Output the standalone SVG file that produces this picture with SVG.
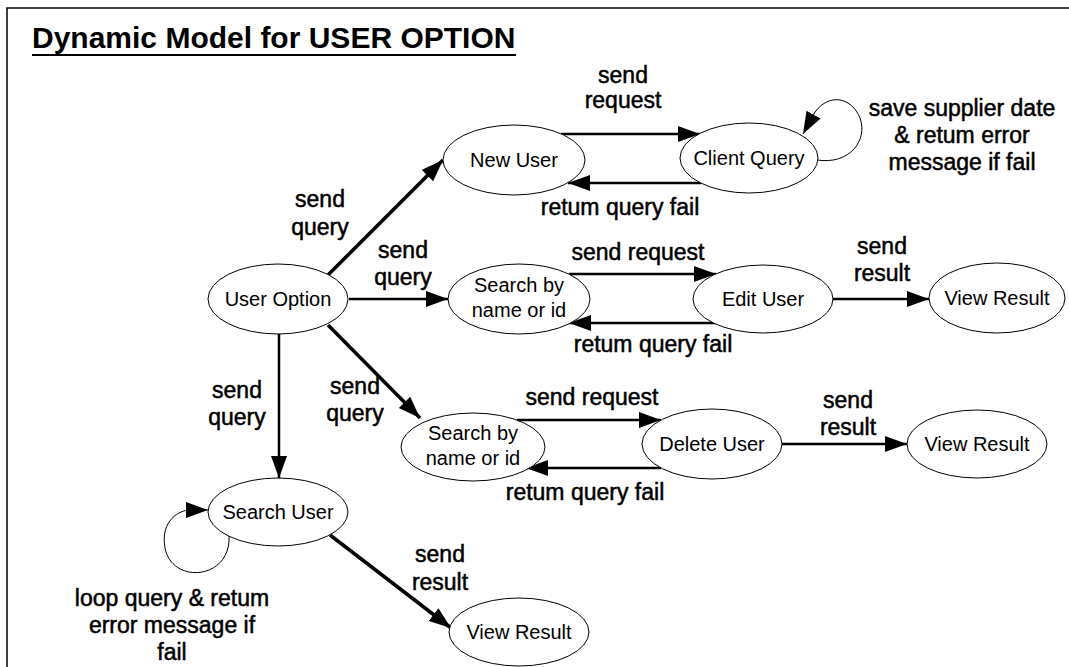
<svg xmlns="http://www.w3.org/2000/svg" width="1069" height="667" viewBox="0 0 1069 667">
<style>
.node ellipse{fill:#fff;stroke:#000;stroke-width:1}
.node text{font-family:"Liberation Sans",Arial,sans-serif;font-size:20px;text-anchor:middle;fill:#000}
.lbl{font-family:"Liberation Sans",Arial,sans-serif;font-size:23px;text-anchor:middle;fill:#000;stroke:#000;stroke-width:0.5}
.c{fill:none;stroke:#000;stroke-width:2.5}
.t{fill:none;stroke:#000;stroke-width:3.5}
.l{fill:none;stroke:#000;stroke-width:1}
</style>
<defs>
<marker id="ah" markerUnits="userSpaceOnUse" markerWidth="24" markerHeight="18" refX="22" refY="8" orient="auto">
<path d="M0,0 L22,8 L0,16 Z" fill="#000"/>
</marker>
</defs>
<rect width="1069" height="667" fill="#fff"/>
<path d="M7,667 V8 H1069" fill="none" stroke="#000" stroke-width="1.5"/>
<text x="32" y="48" font-family="Liberation Sans,Arial,sans-serif" font-size="30" font-weight="bold">Dynamic Model for USER OPTION</text>
<line x1="32" y1="55" x2="516" y2="55" stroke="#000" stroke-width="2"/>

<g id="connectors">
<line class="t" x1="328" y1="275" x2="443" y2="160" marker-end="url(#ah)"/>
<line class="c" x1="349" y1="299" x2="448" y2="299" marker-end="url(#ah)"/>
<line class="t" x1="328" y1="325" x2="420" y2="418" marker-end="url(#ah)"/>
<line class="c" x1="279" y1="334" x2="279" y2="478" marker-end="url(#ah)"/>
<line class="c" x1="561" y1="134" x2="700" y2="134" marker-end="url(#ah)"/>
<line class="c" x1="701" y1="183" x2="568" y2="183" marker-end="url(#ah)"/>
<path class="l" d="M817,160 C850,165 868,140 860,118 C852,98 830,92 815,112" />
<line class="l" x1="815" y1="112" x2="803" y2="134" marker-end="url(#ah)"/>
<line class="c" x1="569" y1="274" x2="716" y2="274" marker-end="url(#ah)"/>
<line class="c" x1="716" y1="323" x2="569" y2="323" marker-end="url(#ah)"/>
<line class="c" x1="833" y1="299" x2="929" y2="299" marker-end="url(#ah)"/>
<line class="c" x1="517" y1="420" x2="661" y2="420" marker-end="url(#ah)"/>
<line class="c" x1="661" y1="468" x2="526" y2="468" marker-end="url(#ah)"/>
<line class="c" x1="782" y1="444" x2="907" y2="444" marker-end="url(#ah)"/>
<line class="t" x1="330" y1="535" x2="451" y2="628" marker-end="url(#ah)"/>
<path class="l" d="M229,535 C232,580 172,585 165,548 C160,520 180,510 190,510" />
<line class="l" x1="190" y1="510" x2="208" y2="510" marker-end="url(#ah)"/>
</g>

<g id="n-user-option" class="node"><ellipse cx="278" cy="299" rx="70" ry="35"/><text x="278" y="306">User Option</text></g>
<g id="n-new-user" class="node"><ellipse cx="514" cy="160" rx="71" ry="35"/><text x="514" y="167">New User</text></g>
<g id="n-client-query" class="node"><ellipse cx="749" cy="158" rx="69" ry="35"/><text x="749" y="165">Client Query</text></g>
<g id="n-search1" class="node"><ellipse cx="519" cy="299" rx="71" ry="35"/><text x="519" y="292">Search by</text><text x="519" y="317">name or id</text></g>
<g id="n-edit-user" class="node"><ellipse cx="763" cy="299" rx="70" ry="34"/><text x="763" y="306">Edit User</text></g>
<g id="n-view1" class="node"><ellipse cx="997" cy="298" rx="68" ry="35"/><text x="997" y="305">View Result</text></g>
<g id="n-search2" class="node"><ellipse cx="473" cy="447" rx="72" ry="34"/><text x="473" y="440">Search by</text><text x="473" y="465">name or id</text></g>
<g id="n-delete-user" class="node"><ellipse cx="712" cy="444" rx="70" ry="35"/><text x="712" y="451">Delete User</text></g>
<g id="n-view2" class="node"><ellipse cx="977" cy="444" rx="70" ry="34"/><text x="977" y="451">View Result</text></g>
<g id="n-search-user" class="node"><ellipse cx="278" cy="512" rx="70" ry="34"/><text x="278" y="519">Search User</text></g>
<g id="n-view3" class="node"><ellipse cx="519" cy="632" rx="70" ry="34"/><text x="519" y="639">View Result</text></g>

<g id="labels">
<text class="lbl" x="623" y="83">send</text><text class="lbl" x="623" y="108">request</text>
<text class="lbl" x="620" y="215">retum query fail</text>
<text class="lbl" x="962" y="116">save supplier date</text><text class="lbl" x="962" y="143">&amp; retum error</text><text class="lbl" x="962" y="170">message if fail</text>
<text class="lbl" x="320" y="207">send</text><text class="lbl" x="320" y="235">query</text>
<text class="lbl" x="403" y="258">send</text><text class="lbl" x="403" y="285">query</text>
<text class="lbl" x="638" y="260">send request</text>
<text class="lbl" x="653" y="352">retum query fail</text>
<text class="lbl" x="882" y="254">send</text><text class="lbl" x="882" y="281">result</text>
<text class="lbl" x="237" y="398">send</text><text class="lbl" x="237" y="425">query</text>
<text class="lbl" x="355" y="394">send</text><text class="lbl" x="355" y="421">query</text>
<text class="lbl" x="592" y="405">send request</text>
<text class="lbl" x="585" y="500">retum query fail</text>
<text class="lbl" x="848" y="408">send</text><text class="lbl" x="848" y="435">result</text>
<text class="lbl" x="440" y="562">send</text><text class="lbl" x="440" y="590">result</text>
<text class="lbl" x="172" y="606">loop query &amp; retum</text><text class="lbl" x="172" y="633">error message if</text><text class="lbl" x="172" y="660">fail</text>
</g>
</svg>
